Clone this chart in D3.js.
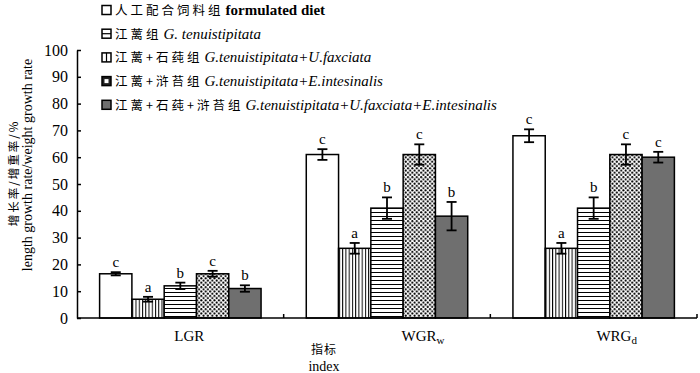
<!DOCTYPE html>
<html><head><meta charset="utf-8">
<script src="https://cdn.jsdelivr.net/npm/d3@7"></script>
<style>body{margin:0;background:#fff}</style>
</head><body><svg id="c" width="700" height="373"></svg>
<script>
// ---- data ----
const categories = ["LGR", "WGR", "WRG"];
const categorySubs = ["", "w", "d"];
const seriesCn = ["人工配合饲料组", "江蓠组", "江蓠+石莼组", "江蓠+浒苔组", "江蓠+石莼+浒苔组"];
const seriesLatin = ["formulated diet", "G. tenuistipitata", "G.tenuistipitata+U.faxciata", "G.tenuistipitata+E.intesinalis", "G.tenuistipitata+U.faxciata+E.intesinalis"];
const valuesLGR = [16.5, 7, 12, 16.5, 11];
const valuesWGR = [61, 26, 41, 61, 38];
const valuesWRG = [68, 26, 41, 61, 60];
const errorsLGR = [0.6, 0.9, 1.2, 1.1, 1.2];
const errorsWGR = [2, 2, 4, 3.8, 5.3];
const errorsWRG = [2.4, 2, 4, 3.8, 2];
const lettersLGR = ["c", "a", "b", "c", "b"];
const lettersWGR = ["c", "a", "b", "c", "b"];
const lettersWRG = ["c", "a", "b", "c", "c"];
const yTicks = [0, 10, 20, 30, 40, 50, 60, 70, 80, 90, 100];

// ---- build ----
const table = categories.map((c, ci) => ({
  cat: c,
  vals: [valuesLGR, valuesWGR, valuesWRG][ci],
  errs: [errorsLGR, errorsWGR, errorsWRG][ci],
  lets: [lettersLGR, lettersWGR, lettersWRG][ci]
}));

const svg = d3.select("#c");
const serif = "'Liberation Serif','Times New Roman',serif";
const cjk = "'Noto Sans CJK SC',sans-serif";

const defs = svg.append("defs");
const pv = defs.append("pattern").attr("id", "pv").attr("patternUnits", "userSpaceOnUse").attr("width", 3.25).attr("height", 10);
pv.append("rect").attr("width", 3.25).attr("height", 10).attr("fill", "#fff");
pv.append("rect").attr("x", 0).attr("width", 1).attr("height", 10).attr("fill", "#000");
const ph = defs.append("pattern").attr("id", "ph").attr("patternUnits", "userSpaceOnUse").attr("width", 10).attr("height", 4);
ph.append("rect").attr("width", 10).attr("height", 4).attr("fill", "#fff");
ph.append("rect").attr("y", 0).attr("width", 10).attr("height", 1).attr("fill", "#000");
const pd = defs.append("pattern").attr("id", "pd").attr("patternUnits", "userSpaceOnUse").attr("width", 4.4).attr("height", 4.4);
pd.append("rect").attr("width", 4.4).attr("height", 4.4).attr("fill", "#fff");
pd.append("circle").attr("cx", 1.1).attr("cy", 1.1).attr("r", 1.05).attr("fill", "#000");
pd.append("circle").attr("cx", 3.3).attr("cy", 3.3).attr("r", 1.05).attr("fill", "#000");

const fills = ["#fff", "url(#pv)", "url(#ph)", "url(#pd)", "#6f6f6f"];

const x0 = d3.scaleBand().domain(categories).range([77, 697]).paddingInner(0).paddingOuter(0);
const x1 = d3.scaleBand().domain(d3.range(seriesCn.length)).range([0, x0.bandwidth()]).paddingInner(0).paddingOuter(0.7);
const y = d3.scaleLinear().domain([0, 100]).range([318, 50]);

// bars
const g = svg.append("g");
const groups = g.selectAll("g.grp").data(table).join("g").attr("transform", d => `translate(${x0(d.cat)},0)`);
groups.selectAll("rect").data(d => d.vals.map((v, i) => ({v, i}))).join("rect")
  .attr("x", d => x1(d.i)).attr("width", x1.bandwidth())
  .attr("y", d => y(d.v)).attr("height", d => y(0) - y(d.v))
  .attr("fill", d => fills[d.i]).attr("stroke", "#000").attr("stroke-width", 1.5);

// error bars
groups.each(function(d) {
  const gg = d3.select(this);
  d.vals.forEach((v, i) => {
    const cx = x1(i) + x1.bandwidth() / 2;
    const top = y(v + d.errs[i]), bot = y(v - d.errs[i]);
    const eb = gg.append("g").attr("stroke", "#000").attr("stroke-width", 1.8);
    eb.append("line").attr("x1", cx).attr("x2", cx).attr("y1", top).attr("y2", bot);
    eb.append("line").attr("x1", cx - 5).attr("x2", cx + 5).attr("y1", top).attr("y2", top);
    eb.append("line").attr("x1", cx - 5).attr("x2", cx + 5).attr("y1", bot).attr("y2", bot);
    gg.append("text").attr("x", cx).attr("y", top - 5).attr("text-anchor", "middle")
      .attr("font-family", serif).attr("font-size", 15).text(d.lets[i]);
  });
});

// y axis
const ya = svg.append("g").attr("transform", "translate(77,0)")
  .call(d3.axisLeft(y).tickValues(yTicks).tickSizeInner(-4).tickSizeOuter(0).tickPadding(9));
ya.selectAll("path,line").attr("stroke", "#000").attr("stroke-width", 1.5);
ya.selectAll("text").attr("font-family", serif).attr("font-size", 16).attr("fill", "#000");

// x axis
svg.append("line").attr("x1", 77).attr("x2", 697).attr("y1", y(0)).attr("y2", y(0)).attr("stroke", "#000").attr("stroke-width", 1.5);
svg.selectAll("line.xt").data(categories).join("line").attr("class", "xt")
  .attr("x1", d => x0(d) + x0.bandwidth()).attr("x2", d => x0(d) + x0.bandwidth())
  .attr("y1", y(0)).attr("y2", y(0) - 4).attr("stroke", "#000").attr("stroke-width", 1.5);

const labelShift = [9, 36, 23];
categories.forEach((c, i) => {
  const t = svg.append("text").attr("x", x0(c) + x0.bandwidth() / 2 + labelShift[i]).attr("y", 341)
    .attr("text-anchor", "middle").attr("font-family", serif).attr("font-size", 15).text(c);
  if (categorySubs[i]) t.append("tspan").attr("font-size", 11).attr("dy", 3).text(categorySubs[i]);
});
svg.append("text").attr("x", 324).attr("y", 354).attr("text-anchor", "middle").attr("font-family", cjk).attr("font-size", 12).attr("letter-spacing", 1).text("指标");
svg.append("text").attr("x", 324).attr("y", 371).attr("text-anchor", "middle").attr("font-family", serif).attr("font-size", 14).text("index");

// y title
svg.append("text").attr("transform", "translate(18,173) rotate(-90)").attr("text-anchor", "middle")
  .attr("font-family", cjk).attr("font-size", 11.5).attr("letter-spacing", 2).text("增长率/增重率/%");
svg.append("text").attr("transform", "translate(32,165) rotate(-90)").attr("text-anchor", "middle")
  .attr("font-family", serif).attr("font-size", 14).text("length growth rate/weight growth rate");

// legend
const leg = svg.append("g");
seriesCn.forEach((s, i) => {
  const yy = 10 + i * 23.7;
  const row = leg.append("g").attr("transform", `translate(102,${yy})`);
  row.append("rect").attr("x", 0).attr("y", -4.5).attr("width", 9).attr("height", 9)
    .attr("fill", i === 4 ? "#6f6f6f" : (i === 3 ? "#222" : "#fff")).attr("stroke", "#000").attr("stroke-width", 1.5);
  if (i === 1) row.append("line").attr("x1", 0).attr("x2", 9).attr("y1", 0).attr("y2", 0).attr("stroke", "#000").attr("stroke-width", 1.2);
  if (i === 2) row.append("line").attr("x1", 4.5).attr("x2", 4.5).attr("y1", -4.5).attr("y2", 4.5).attr("stroke", "#000").attr("stroke-width", 1.2);
  if (i === 3) row.append("rect").attr("x", 2.5).attr("y", -2).attr("width", 4).attr("height", 4).attr("fill", "#fff");
  const t = row.append("text").attr("x", 13).attr("y", 5);
  t.append("tspan").attr("font-family", cjk).attr("font-size", 12.5).attr("letter-spacing", 3).text(s);
  t.append("tspan").attr("font-family", serif).attr("font-size", 15)
    .attr("font-style", i === 0 ? "normal" : "italic").attr("font-weight", i === 0 ? "bold" : "normal")
    .attr("dx", 2).text(seriesLatin[i]);
});
</script></body></html>
